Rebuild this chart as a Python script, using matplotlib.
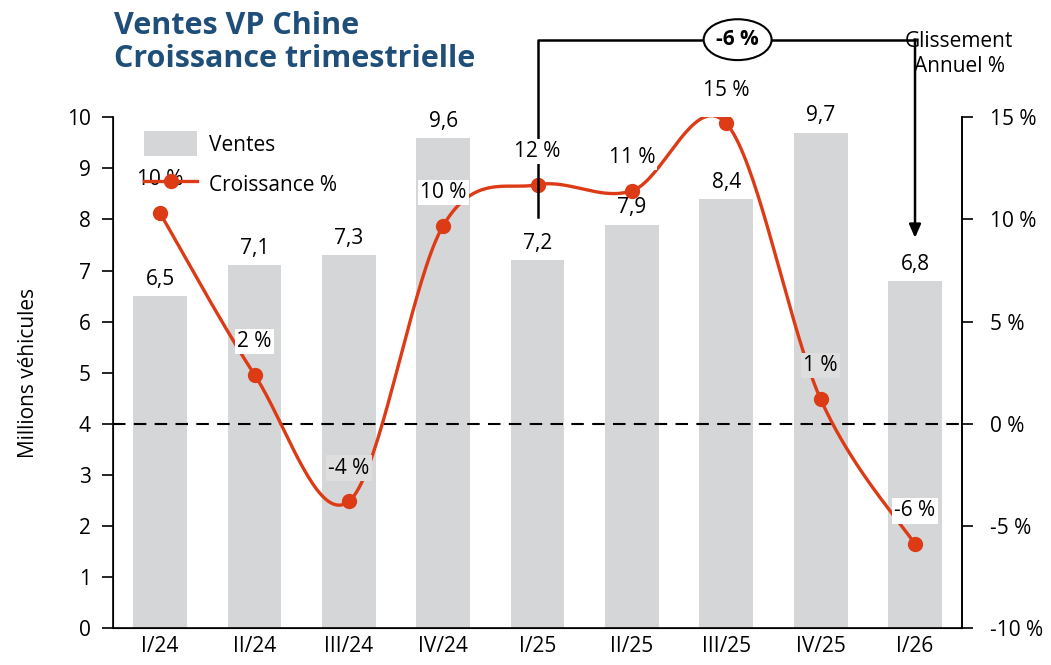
import matplotlib.pyplot as plt
import numpy as np
from matplotlib.patches import Ellipse

plt.rcParams['font.family'] = ['Open Sans', 'DejaVu Sans']

quarters = ['I/24', 'II/24', 'III/24', 'IV/24', 'I/25', 'II/25', 'III/25', 'IV/25', 'I/26']
ventes = [6.5, 7.1, 7.3, 9.6, 7.2, 7.9, 8.4, 9.7, 6.8]
croissance = [10.3, 2.4, -3.8, 9.7, 11.7, 11.4, 14.7, 1.2, -5.9]
croissance_labels = ['10 %', '2 %', '-4 %', '10 %', '12 %', '11 %', '15 %', '1 %', '-6 %']
glissement = '-6 %'

bar_color = '#d5d6d8'
line_color = '#dd3b16'
title_color = '#1f4e79'
fs = 15


def smooth(x, y, n=40):
    # Excel-like smoothed line (Catmull-Rom as cubic Bezier)
    p = np.column_stack([x, y]).astype(float)
    p = np.vstack([p[0], p, p[-1]])
    out = []
    t = np.linspace(0, 1, n)[:, None]
    for i in range(1, len(p) - 2):
        p0, p1, p2, p3 = p[i - 1], p[i], p[i + 1], p[i + 2]
        c1 = p1 + (p2 - p0) / 6
        c2 = p2 - (p3 - p1) / 6
        seg = ((1 - t) ** 3) * p1 + 3 * ((1 - t) ** 2) * t * c1 + 3 * (1 - t) * t ** 2 * c2 + t ** 3 * p2
        out.append(seg)
    out = np.vstack(out)
    return out[:, 0], out[:, 1]


fig = plt.figure(figsize=(10.51, 6.65), dpi=100)
ax = fig.add_axes([0.1075, 0.0556, 0.808, 0.768])
x = np.arange(len(quarters))

bars = ax.bar(x, ventes, width=0.57, color=bar_color, label='Ventes')
ax.set_xlim(-0.5, len(quarters) - 0.5)
ax.set_ylim(0, 10)
ax.set_yticks(range(0, 11))
ax.set_xticks(x)
ax.set_xticklabels(quarters)
ax.tick_params(axis='x', length=0, labelsize=fs, pad=6)
ax.tick_params(axis='y', length=8, width=1.2, labelsize=fs, pad=8)
ax.set_ylabel('Millions véhicules', fontsize=fs, labelpad=20)
ax.spines['top'].set_visible(False)
for s in ['left', 'bottom', 'right']:
    ax.spines[s].set_linewidth(1.2)

for xi, v in zip(x, ventes):
    ax.annotate(f'{v:.1f}'.replace('.', ','), (xi, v), xytext=(0, 12), textcoords='offset points',
                ha='center', va='center', fontsize=fs)

ax2 = ax.twinx()
ax2.set_ylim(-10, 15)
ax2.set_yticks(range(-10, 16, 5))
ax2.set_yticklabels([f'{v} %' for v in range(-10, 16, 5)])
ax2.tick_params(axis='y', length=8, width=1.2, labelsize=fs, pad=12)
ax2.spines['top'].set_visible(False)
ax2.spines['right'].set_linewidth(1.2)

ax2.axhline(0, color='black', lw=1.5, ls=(0, (6, 4)), zorder=2)

sx, sy = smooth(x, croissance)
ax2.plot(sx, sy, color=line_color, lw=2.4, zorder=3)
ax2.plot(x, croissance, 'o', color=line_color, ms=10, zorder=4)

for xi, v, lab in zip(x, croissance, croissance_labels):
    fc = 'white'
    if lab in ('-4 %', '1 %'):
        fc = '#dedede'
    ax2.annotate(lab, (xi, v), xytext=(0, 24), textcoords='offset points', ha='center', va='center',
                 fontsize=fs, zorder=5, bbox=dict(boxstyle='square,pad=0.1', fc=fc, ec='none'))

# bracket: I/25 -> I/26 glissement annuel
i0, i1 = 4, 8
top = 18.8
ax2.plot([i0, i0, i1], [10.1, top, top], color='black', lw=1.8, clip_on=False, zorder=4)
ax2.annotate('', xy=(i1, 9.1), xytext=(i1, top), xycoords='data',
             arrowprops=dict(arrowstyle='-|>,head_length=0.8,head_width=0.35', color='black', lw=1.8,
                             shrinkA=0, shrinkB=0), annotation_clip=False, zorder=4)
mid = 6.12
ax2.add_patch(Ellipse((mid, top), 0.72, 2.0, fc='white', ec='black', lw=1.5, clip_on=False, zorder=5))
ax2.text(mid, top, glissement, ha='center', va='center', fontsize=fs, fontweight='bold', zorder=6, clip_on=False)

ax2.text(8.47, 18.1, 'Glissement\nAnnuel %', ha='center', va='center', fontsize=fs, linespacing=1.3,
         zorder=6)

fig.text(0.108, 0.984, 'Ventes VP Chine\nCroissance trimestrielle', ha='left', va='top',
         fontsize=22, fontweight='bold', color=title_color, linespacing=1.15)

h1, l1 = ax.get_legend_handles_labels()
line_handle = plt.Line2D([], [], color=line_color, lw=2.4, marker='o', ms=10)
leg = ax2.legend(h1 + [line_handle], ['Ventes', 'Croissance %'], loc='upper left',
                 bbox_to_anchor=(0.015, 1.01), frameon=False, fontsize=fs, handlelength=2.5,
                 handleheight=1.5, labelspacing=0.7, handletextpad=0.6)
leg.set_zorder(10)

fig.savefig('out.png', dpi=100)
